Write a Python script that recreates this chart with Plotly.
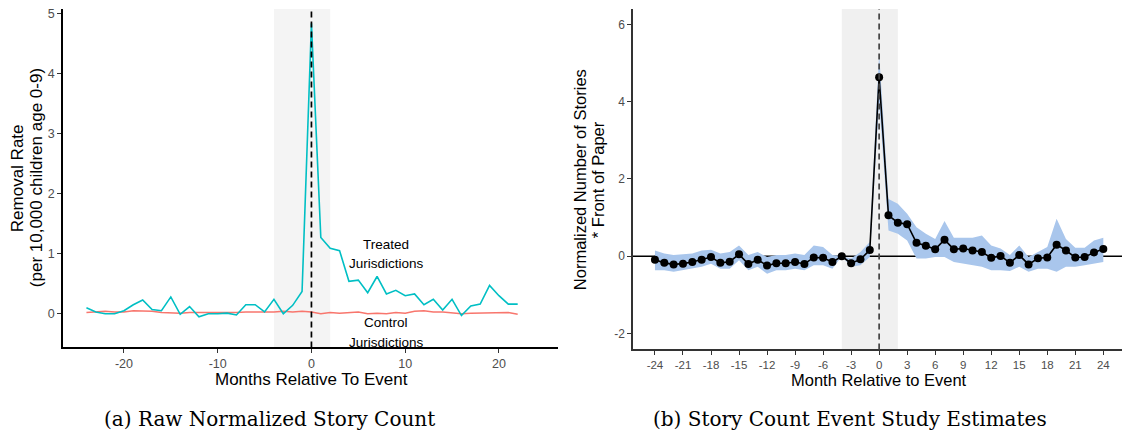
import plotly.graph_objects as go

# ---- Panel (a): raw normalized story counts ----
months_a = list(range(-24, 23))
treated = [0.10, 0.03, 0.00, 0.00, 0.05, 0.15, 0.23, 0.07, 0.05, 0.28,
           -0.01, 0.12, -0.05, 0.00, 0.00, 0.01, -0.02, 0.15, 0.15, 0.03,
           0.24, 0.00, 0.14, 0.37, 4.83, 1.27, 1.09, 1.05, 0.54, 0.56,
           0.35, 0.62, 0.33, 0.39, 0.30, 0.33, 0.15, 0.24, 0.06, 0.24,
           -0.03, 0.13, 0.16, 0.47, 0.30, 0.16, 0.16]
control = [0.02, 0.03, 0.04, 0.03, 0.03, 0.05, 0.05, 0.04, 0.02, 0.01,
           0.01, 0.02, 0.02, 0.01, 0.01, 0.01, 0.02, 0.03, 0.03, 0.02,
           0.03, 0.04, 0.03, 0.04, 0.03, 0.00, 0.02, 0.01, 0.02, 0.03,
           0.00, 0.01, 0.00, 0.02, 0.01, 0.04, 0.05, 0.03, 0.03, 0.02,
           0.00, 0.01, 0.01, 0.01, 0.01, 0.02, -0.01]
ticks_a = [-20, -10, 0, 10, 20]
yticks_a = [0, 1, 2, 3, 4, 5]

# ---- Panel (b): event-study estimates with confidence band ----
months_b = list(range(-24, 25))
estimate = [-0.09, -0.17, -0.21, -0.19, -0.15, -0.09, -0.02, -0.17, -0.14, 0.05,
            -0.20, -0.09, -0.24, -0.18, -0.18, -0.15, -0.20, -0.03, -0.04, -0.15,
            0.00, -0.18, -0.08, 0.16, 4.63, 1.06, 0.87, 0.83, 0.35, 0.27,
            0.18, 0.43, 0.18, 0.20, 0.15, 0.11, -0.04, 0.01, -0.17, 0.03,
            -0.21, -0.05, -0.03, 0.30, 0.15, -0.03, -0.02, 0.10, 0.19]
upper = [0.15, 0.07, 0.03, 0.05, 0.07, 0.15, 0.17, 0.07, 0.11, 0.28,
         0.03, 0.11, -0.02, 0.03, 0.03, 0.07, 0.03, 0.28, 0.24, 0.03,
         0.00, -0.06, 0.11, 0.37, 5.25, 1.48, 1.36, 1.10, 0.75, 0.58,
         0.45, 0.91, 0.48, 0.48, 0.48, 0.54, 0.28, 0.20, 0.03, 0.28,
         -0.02, 0.11, 0.24, 0.97, 0.45, 0.22, 0.22, 0.41, 0.48]
lower = [-0.36, -0.36, -0.40, -0.36, -0.32, -0.27, -0.19, -0.32, -0.32, -0.10,
         -0.36, -0.27, -0.45, -0.36, -0.36, -0.32, -0.36, -0.23, -0.23, -0.32,
         0.00, -0.27, -0.23, -0.02, 4.00, 0.67, 0.58, 0.41, -0.06, -0.06,
         -0.02, -0.02, -0.15, -0.19, -0.23, -0.27, -0.36, -0.36, -0.38, -0.27,
         -0.40, -0.32, -0.32, -0.40, -0.27, -0.27, -0.23, -0.19, -0.15]
ticks_b = list(range(-24, 25, 3))
yticks_b = [-2, 0, 2, 4, 6]

window = (-4, 2)

FONT = "Liberation Sans"
TICK_COLOR = "#4d4d4d"
CAPTION_FONT = "DejaVu Serif"
W, H = 1122, 439

fig = go.Figure()

# panel (a) traces
fig.add_trace(go.Scatter(x=months_a, y=control, mode="lines",
                         line=dict(color="#F8766D", width=1.5),
                         xaxis="x", yaxis="y", showlegend=False))
fig.add_trace(go.Scatter(x=months_a, y=treated, mode="lines",
                         line=dict(color="#00BFC4", width=1.6),
                         xaxis="x", yaxis="y", showlegend=False))

# panel (b) traces: band, then estimates
fig.add_trace(go.Scatter(x=months_b, y=upper, mode="lines",
                         line=dict(width=0, color="rgba(0,0,0,0)"),
                         xaxis="x2", yaxis="y2", showlegend=False,
                         hoverinfo="skip"))
fig.add_trace(go.Scatter(x=months_b, y=lower, mode="lines",
                         line=dict(width=0, color="rgba(0,0,0,0)"),
                         fill="tonexty", fillcolor="#a9c6ec",
                         xaxis="x2", yaxis="y2", showlegend=False,
                         hoverinfo="skip"))
fig.add_trace(go.Scatter(x=months_b, y=estimate, mode="lines+markers",
                         line=dict(color="black", width=1.6),
                         marker=dict(color="black", size=8),
                         xaxis="x2", yaxis="y2", showlegend=False))

shapes = [
    # event window shading
    dict(type="rect", xref="x", yref="y domain", x0=window[0], x1=window[1],
         y0=0, y1=1, fillcolor="#f4f4f4", line=dict(width=0), layer="below"),
    dict(type="rect", xref="x2", yref="y2 domain", x0=window[0], x1=window[1],
         y0=0, y1=1, fillcolor="#f0f0f0", line=dict(width=0), layer="below"),
    # zero line in panel (b)
    dict(type="line", xref="x2 domain", yref="y2", x0=0, x1=1, y0=0, y1=0,
         line=dict(color="black", width=1.5), layer="below"),
    # event month markers
    dict(type="line", xref="x", yref="y domain", x0=0, x1=0, y0=0, y1=1,
         line=dict(color="black", width=1.7, dash="6px,4px")),
    dict(type="line", xref="x2", yref="y2 domain", x0=0, x1=0, y0=0, y1=1,
         line=dict(color="#444444", width=1.7, dash="6px,4px")),
]


def label(text, px, py, size, angle=0, family=FONT, color="black"):
    """Text placed by pixel position (centre) on the page."""
    return dict(text=text, x=px / W, y=1 - py / H, xref="paper",
                yref="paper", xanchor="center", yanchor="middle",
                textangle=angle, showarrow=False,
                font=dict(family=family, size=size, color=color))


def data_label(text, x, y, size):
    return dict(text=text, x=x, y=y, xref="x", yref="y", xanchor="center",
                yanchor="middle", showarrow=False,
                font=dict(family=FONT, size=size, color="black"))


annotations = [
    data_label("Treated", 8, 1.16, 13.5),
    data_label("Jurisdictions", 8, 0.83, 13.5),
    data_label("Control", 8, -0.15, 13.5),
    data_label("Jurisdictions", 8, -0.47, 13.5),
    # axis titles
    label("Removal Rate", 17, 177, 17, angle=-90),
    label("(per 10,000 children age 0-9)", 36, 177, 17, angle=-90),
    label("Months Relative To Event", 311, 379, 17),
    label("Normalized Number of Stories", 580, 179, 16.5, angle=-90),
    label("* Front of Paper", 598, 179, 16.5, angle=-90),
    label("Month Relative to Event", 879, 380, 16.5),
    # panel captions
    label("(a) Raw Normalized Story Count", 269, 419, 20,
          family=CAPTION_FONT),
    label("(b) Story Count Event Study Estimates", 850, 419, 20,
          family=CAPTION_FONT),
]


def axis(domain, rng, ticks, linecolor, size, anchor):
    return dict(domain=domain, range=rng, tickvals=ticks,
                ticktext=[str(t) for t in ticks], anchor=anchor,
                showgrid=False, zeroline=False, showline=True,
                linewidth=1.5, linecolor=linecolor, ticks="outside",
                ticklen=4, tickwidth=1.2, tickcolor="#333333",
                tickfont=dict(family=FONT, size=size, color=TICK_COLOR))


fig.update_layout(
    width=W, height=H,
    margin=dict(l=0, r=0, t=0, b=0),
    paper_bgcolor="white", plot_bgcolor="white",
    showlegend=False,
    xaxis=axis([63 / W, 558 / W], [-26.5, 26.3], ticks_a, "black", 12.5, "y"),
    yaxis=axis([1 - 347 / H, 1 - 7 / H], [-0.56, 5.07], yticks_a, "black",
               12.5, "x"),
    xaxis2=axis([633 / W, 1.0], [-26.35, 26.0], ticks_b, "#333333", 11.5,
                "y2"),
    yaxis2=axis([1 - 349 / H, 1 - 7 / H], [-2.41, 6.40], yticks_b, "#333333",
                12, "x2"),
    shapes=shapes,
    annotations=annotations,
)

fig.write_html("out.html")
